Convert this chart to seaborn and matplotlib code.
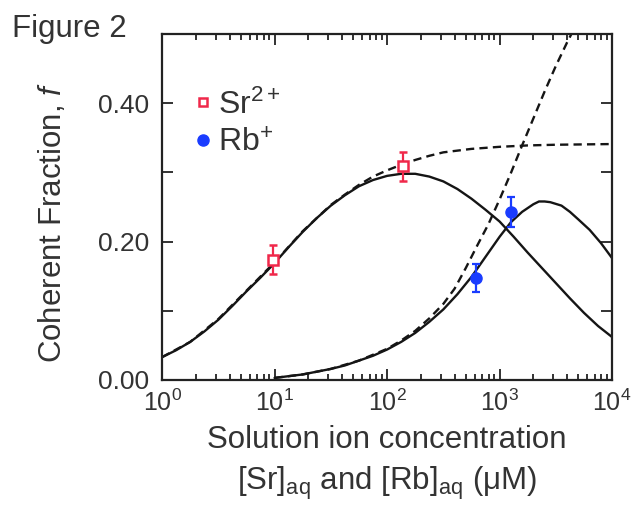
# -*- coding: ascii -*-
"""
Coherent fraction vs solution ion concentration (Sr2+ and Rb+)
"""
import numpy as np
import pandas as pd
import seaborn as sns
from matplotlib import pyplot as plt
from matplotlib.lines import Line2D

# measured points
SR_CONC = [9.7, 138.0]
SR_F = [0.174, 0.309]
SR_ERR = [0.021, 0.021]
RB_CONC = [618.0, 1260.0]
RB_F = [0.147, 0.243]
RB_ERR = [0.020, 0.022]

# model curves (log10 of concentration, f)
SR_FIT_LOGC = [0.0, 0.125, 0.25, 0.375, 0.5, 0.625, 0.75, 0.875, 1.0, 1.125,
               1.25, 1.375, 1.5, 1.625, 1.75, 1.875, 2.0, 2.125, 2.25, 2.375,
               2.5, 2.625, 2.75, 2.875, 3.0, 3.125, 3.25, 3.375, 3.5, 3.625,
               3.75, 3.875, 4.0]
SR_FIT_F = [0.033, 0.043, 0.055, 0.070, 0.087, 0.107, 0.128, 0.148, 0.169,
            0.192, 0.214, 0.234, 0.252, 0.267, 0.280, 0.289, 0.295, 0.298,
            0.298, 0.294, 0.287, 0.276, 0.262, 0.246, 0.229, 0.207, 0.184,
            0.162, 0.140, 0.118, 0.097, 0.078, 0.062]
SR_LANG_LOGC = [0.0, 0.25, 0.5, 0.75, 1.0, 1.25, 1.5, 1.625, 1.75, 1.875,
                2.0, 2.125, 2.25, 2.375, 2.5, 2.75, 3.0, 3.25, 3.5, 4.0]
SR_LANG_F = [0.033, 0.055, 0.088, 0.129, 0.170, 0.215, 0.253, 0.268, 0.282,
             0.294, 0.303, 0.311, 0.318, 0.324, 0.329, 0.334, 0.337, 0.339,
             0.340, 0.341]
RB_FIT_LOGC = [1.0, 1.25, 1.5, 1.625, 1.75, 1.875, 2.0, 2.125, 2.25, 2.375,
               2.5, 2.625, 2.75, 2.875, 3.0, 3.1, 3.2, 3.3, 3.35, 3.4, 3.45,
               3.55, 3.625, 3.7, 3.8, 3.9, 4.0]
RB_FIT_F = [0.003, 0.008, 0.016, 0.021, 0.028, 0.035, 0.044, 0.055, 0.068,
            0.084, 0.102, 0.124, 0.149, 0.178, 0.207, 0.228, 0.243, 0.254,
            0.258, 0.258, 0.257, 0.252, 0.243, 0.232, 0.217, 0.198, 0.176]
RB_LANG_LOGC = [1.0, 1.25, 1.5, 1.75, 2.0, 2.125, 2.25, 2.375, 2.5, 2.6, 2.7,
                2.8, 2.9, 3.0, 3.1, 3.2, 3.3, 3.4, 3.5, 3.6, 3.66]
RB_LANG_F = [0.003, 0.008, 0.016, 0.028, 0.045, 0.057, 0.071, 0.089, 0.110,
             0.132, 0.162, 0.194, 0.225, 0.261, 0.299, 0.339, 0.378, 0.417,
             0.454, 0.488, 0.507]

RED = '#f0284a'
BLUE = '#1a3cff'
INK = '#333333'

sns.set_theme(style='ticks')
plt.rcParams['font.family'] = ['Liberation Sans', 'DejaVu Sans']
plt.rcParams['mathtext.fontset'] = 'custom'
plt.rcParams['mathtext.rm'] = 'Liberation Sans'
plt.rcParams['mathtext.it'] = 'Liberation Sans:italic'


def curve_frame(logc, f):
    return pd.DataFrame({'c': 10.0 ** np.asarray(logc), 'f': f})


fig = plt.figure(figsize=(6.43, 5.08), dpi=100)
ax = fig.add_axes([0.252, 0.252, 0.700, 0.681])

dash = (0, (3.5, 2.2))
for logc, f, ls in [(SR_FIT_LOGC, SR_FIT_F, '-'),
                    (SR_LANG_LOGC, SR_LANG_F, dash),
                    (RB_FIT_LOGC, RB_FIT_F, '-'),
                    (RB_LANG_LOGC, RB_LANG_F, dash)]:
    sns.lineplot(data=curve_frame(logc, f), x='c', y='f', ax=ax,
                 color='#151515', lw=1.7, linestyle=ls, sort=False)

ax.errorbar(SR_CONC, SR_F, yerr=SR_ERR, fmt='s', ms=7, mfc='white',
            mec=RED, mew=1.8, ecolor=RED, elinewidth=1.6, capsize=3,
            capthick=1.6, zorder=5)
ax.errorbar(RB_CONC, RB_F, yerr=RB_ERR, fmt='o', ms=8, mfc=BLUE,
            mec=BLUE, ecolor=BLUE, elinewidth=1.6, capsize=3,
            capthick=1.6, zorder=5)

ax.set_xscale('log')
ax.set_xlim(1, 1e4)
ax.set_ylim(0, 0.5)
ax.set_yticks([0.0, 0.2, 0.4])
ax.set_yticks([0.1, 0.3], minor=True)
ax.set_yticklabels(['0.00', '0.20', '0.40'])
ax.tick_params(which='both', direction='in', top=True, right=True,
               width=1.3, color='#222222', labelcolor=INK)
ax.tick_params(which='major', length=8)
ax.tick_params(axis='x', which='major', labelsize=18, pad=7)
ax.tick_params(axis='y', which='major', labelsize=19, pad=9)
ax.tick_params(axis='y', which='minor', length=8)
ax.tick_params(axis='x', which='minor', length=4)
for sp in ax.spines.values():
    sp.set_linewidth(1.6)
    sp.set_color('#222222')

ax.set_xlabel('Solution ion concentration\n'
              '[Sr]$_{\\mathrm{aq}}$ and [Rb]$_{\\mathrm{aq}}$ (\u03bcM)',
              fontsize=22.5, color=INK, linespacing=1.4)
ax.xaxis.set_label_coords(0.5, -0.13)
ax.set_ylabel('Coherent Fraction, $f$', fontsize=22.5, color=INK)
ax.yaxis.set_label_coords(-0.21, 0.454)

handles = [Line2D([], [], ls='none', marker='s', ms=6, mfc='white', mec=RED,
                  mew=1.8),
           Line2D([], [], ls='none', marker='o', ms=8, mfc=BLUE, mec=BLUE)]
leg = ax.legend(handles=handles, labels=['Sr$^{2+}$', 'Rb$^{+}$'],
                loc='center left', bbox_to_anchor=(0.07, 0.74),
                frameon=False, fontsize=23, handlelength=0.6,
                handletextpad=0.15, labelspacing=0.25, borderpad=0,
                borderaxespad=0)
for t in leg.get_texts():
    t.set_color(INK)

fig.text(12 / 643, 1 - 37 / 508, 'Figure 2', fontsize=22.5, color=INK,
         va='baseline')

fig.savefig('out.png', dpi=100, facecolor='white')
